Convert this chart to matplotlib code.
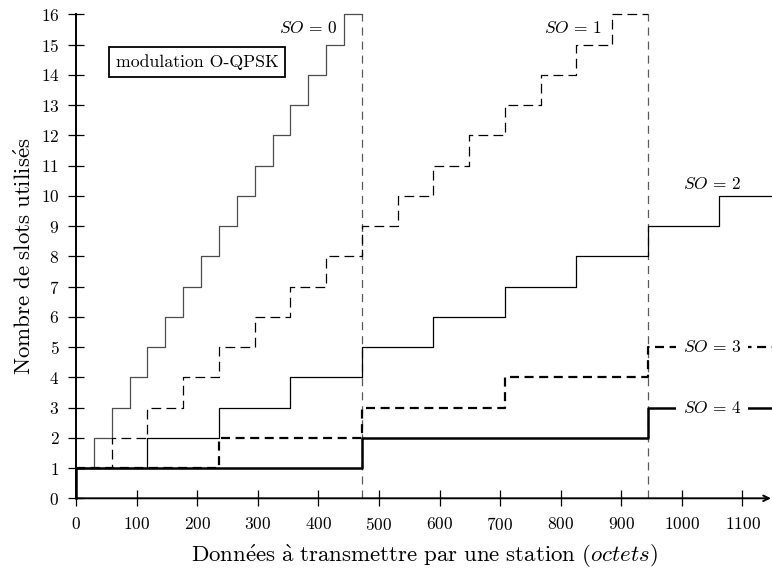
import matplotlib
matplotlib.use('Agg')
import matplotlib.pyplot as plt

plt.rcParams['font.family'] = ['cmr10', 'DejaVu Serif']
plt.rcParams['mathtext.fontset'] = 'cm'
plt.rcParams['axes.formatter.use_mathtext'] = True
plt.rcParams['lines.scale_dashes'] = False

# step edges (octets) and slot counts
so0_x = [0, 29.5, 59, 88.5, 118, 147.5, 177, 206.5, 236, 265.5, 295, 324.5, 354, 383.5, 413, 442.5, 472]
so0_y = [1, 2, 3, 4, 5, 6, 7, 8, 9, 10, 11, 12, 13, 14, 15, 16, 16]
so1_x = [0, 59, 118, 177, 236, 295, 354, 413, 472, 531, 590, 649, 708, 767, 826, 885, 944]
so1_y = [1, 2, 3, 4, 5, 6, 7, 8, 9, 10, 11, 12, 13, 14, 15, 16, 16]
so2_x = [0, 118, 236, 354, 472, 590, 708, 826, 944, 1062, 1150]
so2_y = [1, 2, 3, 4, 5, 6, 7, 8, 9, 10, 10]
so3_x = [0, 236, 472, 708, 944, 1150]
so3_y = [1, 2, 3, 4, 5, 5]
so4_x = [0, 0, 472, 944, 1150]
so4_y = [0, 1, 2, 3, 3]
limits_x = [472, 944]

fig = plt.figure(figsize=(7.72, 5.70), dpi=100)
ax = fig.add_axes([0.0984, 0.1258, 0.9026, 0.8488])

for xv in limits_x:
    ax.plot([xv, xv], [0, 16], color='0.35', lw=0.9, linestyle=(0, (5.8, 4.3)), clip_on=False)

ax.step(so0_x, so0_y, where='post', color='0.3', lw=0.9, clip_on=False)
ax.step(so1_x, so1_y, where='post', color='black', lw=0.9, linestyle=(0, (7, 3.8)), clip_on=False)
ax.step(so2_x, so2_y, where='post', color='black', lw=0.9, clip_on=False)
ax.step(so3_x, so3_y, where='post', color='black', lw=1.6, linestyle=(0, (6.5, 4)), clip_on=False)
ax.step(so4_x, so4_y, where='post', color='black', lw=1.8, clip_on=False)

fs = 12.5
ax.text(432, 15.55, r'$SO\,=\,0$', ha='right', va='center', fontsize=fs)
ax.text(868, 15.55, r'$SO\,=\,1$', ha='right', va='center', fontsize=fs)
ax.text(1050, 10.4, r'$SO\,=\,2$', ha='center', va='center', fontsize=fs)
for yv, lab in [(5, r'$SO\,=\,3$'), (3, r'$SO\,=\,4$')]:
    ax.text(1050, yv, lab, ha='center', va='center', fontsize=fs, zorder=5,
            bbox=dict(facecolor='white', edgecolor='none', pad=5))

ax.text(200, 14.42, 'modulation O-QPSK', ha='center', va='center', fontsize=12.8,
        bbox=dict(facecolor='white', edgecolor='black', lw=1.3, pad=5))

ax.set_xlim(0, 1150)
ax.set_ylim(0, 16)
ax.set_xticks(range(0, 1101, 100))
ax.set_yticks(range(0, 17))
ax.tick_params(direction='inout', length=12, width=0.9, labelsize=12.5)
ax.tick_params(axis='x', pad=7)
ax.tick_params(axis='y', pad=6)
for s in ['top', 'right', 'bottom']:
    ax.spines[s].set_visible(False)
ax.spines['left'].set_linewidth(1.4)
ax.annotate('', xy=(1147, 0), xytext=(0, 0), annotation_clip=False,
            arrowprops=dict(arrowstyle='->', lw=1.4, color='black', shrinkA=0, shrinkB=0))

ax.set_xlabel(r'$\mathrm{Donn\acute{e}es\ \grave{a}\ transmettre\ par\ une\ station\ (}\mathit{octets}\mathrm{)}$',
              fontsize=16.5, labelpad=7)
ax.set_ylabel(r'$\mathrm{Nombre\ de\ slots\ utilis\acute{e}s}$', fontsize=16.5, labelpad=4)

fig.savefig('out.png')
